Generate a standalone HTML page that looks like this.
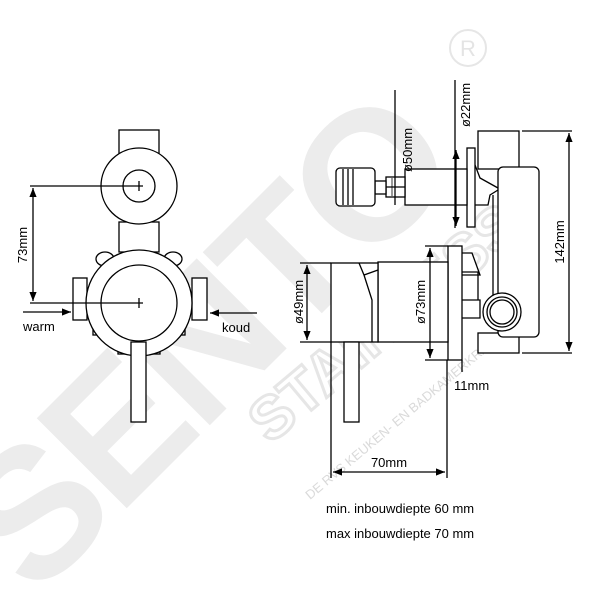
<!DOCTYPE html>
<html><head><meta charset="utf-8"><style>
html,body{margin:0;padding:0;background:#fff;}
svg{display:block;font-family:"Liberation Sans",sans-serif;}
</style></head><body>
<svg width="600" height="600" viewBox="0 0 600 600" xmlns="http://www.w3.org/2000/svg">
<defs>
<marker id="a" viewBox="0 0 10 10" refX="10" refY="5" markerWidth="7" markerHeight="7" orient="auto-start-reverse"><path d="M0,1 L10,5 L0,9 z" fill="#000"/></marker>
</defs>
<!-- watermark -->
<g fill="#ececec">
<text x="0" y="0" font-size="185" font-weight="bold" transform="translate(35,600) rotate(-45)" letter-spacing="-6">SENTO</text>
<text x="0" y="0" font-size="60" font-weight="bold" fill="none" stroke="#e6e6e6" stroke-width="3" transform="translate(270,445) rotate(-40)">STAINLESS</text>
<text x="0" y="0" font-size="13" fill="#dadada" transform="translate(310,500) rotate(-40)">DE RVS KEUKEN- EN BADKAMERKRAAN</text>
<circle cx="468" cy="48" r="18" fill="none" stroke="#e6e6e6" stroke-width="2"/>
<text x="460" y="56" font-size="22" fill="#e4e4e4">R</text>
</g>
<g fill="none" stroke="#000" stroke-width="1.3">
<!-- left view -->
<rect x="119" y="130" width="40" height="26" fill="#fff"/>
<rect x="119" y="222" width="40" height="30" fill="#fff"/>
<circle cx="139" cy="186" r="38" fill="#fff"/>
<circle cx="139" cy="186" r="16"/>
<ellipse cx="105" cy="259" rx="9" ry="7" fill="#fff"/>
<ellipse cx="173" cy="259" rx="9" ry="7" fill="#fff"/>
<rect x="93" y="325" width="10" height="10" fill="#fff"/>
<rect x="175" y="325" width="10" height="10" fill="#fff"/>
<rect x="118" y="342" width="42" height="12" fill="#fff"/>
<rect x="73" y="278" width="14" height="42" fill="#fff"/>
<rect x="192" y="278" width="15" height="42" fill="#fff"/>
<circle cx="139" cy="303" r="53" fill="#fff"/>
<circle cx="139" cy="303" r="38"/>
<rect x="131" y="342" width="15" height="80" fill="#fff"/>
<line x1="30" y1="186" x2="143" y2="186"/>
<line x1="139" y1="181" x2="139" y2="191"/>
<line x1="30" y1="303" x2="143" y2="303"/>
<line x1="139" y1="298" x2="139" y2="308"/>
<line x1="33" y1="188" x2="33" y2="301" marker-start="url(#a)" marker-end="url(#a)"/>
<line x1="23" y1="312" x2="71" y2="312" marker-end="url(#a)"/>
<line x1="257" y1="313" x2="210" y2="313" marker-end="url(#a)"/>
<!-- right view upper -->
<rect x="478" y="131" width="41" height="38" fill="#fff"/>
<rect x="478" y="333" width="41" height="20" fill="#fff"/>
<rect x="498" y="167" width="41" height="170" rx="5" fill="#fff"/>
<path d="M475,165 L480,178 L498,188 M475,205 L488,205 L490,195 L498,190"/>
<line x1="493" y1="195" x2="493" y2="315"/>
<rect x="467" y="148" width="8" height="79" fill="#fff"/>
<rect x="405" y="169" width="62" height="36" fill="#fff"/>
<rect x="386" y="177" width="19" height="20" fill="#fff"/>
<line x1="386" y1="187" x2="405" y2="187"/>
<rect x="375" y="181" width="11" height="13" fill="#fff"/>
<rect x="336" y="168" width="39" height="38" rx="4" fill="#fff"/>
<line x1="343" y1="169" x2="343" y2="205"/>
<line x1="348" y1="169" x2="348" y2="205"/>
<line x1="353" y1="169" x2="353" y2="205"/>
<line x1="395" y1="90" x2="395" y2="205"/>
<line x1="455" y1="80" x2="455" y2="228"/>
<line x1="456" y1="150" x2="456" y2="226" marker-start="url(#a)" marker-end="url(#a)"/>
<line x1="392" y1="178" x2="392" y2="196" stroke-width="0.8"/>
<line x1="522" y1="131" x2="572" y2="131"/>
<line x1="522" y1="353" x2="572" y2="353"/>
<line x1="569" y1="133" x2="569" y2="351" marker-start="url(#a)" marker-end="url(#a)"/>
<!-- right view lower -->
<path d="M462,253 L472,253 L480,275 L462,275 M462,272 L478,272 L478,300 L462,300 M462,300 L480,300 L480,318 L462,318" fill="#fff"/>
<circle cx="502" cy="312" r="19" fill="#fff"/>
<circle cx="502" cy="312" r="15"/>
<circle cx="502" cy="312" r="12"/>
<rect x="448" y="246" width="14" height="114" fill="#fff"/>
<rect x="378" y="262" width="70" height="80" fill="#fff"/>
<rect x="331" y="263" width="47" height="79" fill="#fff"/>
<path d="M359,263 L364,275 L378,270 M364,275 L372,300 L372,342"/>
<rect x="344" y="342" width="15" height="80" fill="#fff"/>
<line x1="300" y1="263" x2="331" y2="263"/>
<line x1="300" y1="342" x2="331" y2="342"/>
<line x1="307" y1="265" x2="307" y2="340" marker-start="url(#a)" marker-end="url(#a)"/>
<line x1="425" y1="246" x2="448" y2="246"/>
<line x1="425" y1="360" x2="448" y2="360"/>
<line x1="430" y1="248" x2="430" y2="358" marker-start="url(#a)" marker-end="url(#a)"/>
<line x1="462" y1="360" x2="462" y2="372"/>
<line x1="331" y1="342" x2="331" y2="478"/>
<line x1="447" y1="360" x2="447" y2="478"/>
<line x1="333" y1="472" x2="445" y2="472" marker-start="url(#a)" marker-end="url(#a)"/>
</g>
<g fill="#000" font-size="13">
<text transform="translate(27,245) rotate(-90)" text-anchor="middle">73mm</text>
<text x="23" y="331">warm</text>
<text x="222" y="332">koud</text>
<text transform="translate(412,150) rotate(-90)" text-anchor="middle">ø50mm</text>
<text transform="translate(470,105) rotate(-90)" text-anchor="middle">ø22mm</text>
<text transform="translate(564,242) rotate(-90)" text-anchor="middle">142mm</text>
<text transform="translate(303,302) rotate(-90)" text-anchor="middle">ø49mm</text>
<text transform="translate(425,302) rotate(-90)" text-anchor="middle">ø73mm</text>
<text x="454" y="390">11mm</text>
<text x="389" y="467" text-anchor="middle">70mm</text>
<text x="326" y="513">min. inbouwdiepte 60 mm</text>
<text x="326" y="538">max inbouwdiepte 70 mm</text>
</g>
</svg>
</body></html>
